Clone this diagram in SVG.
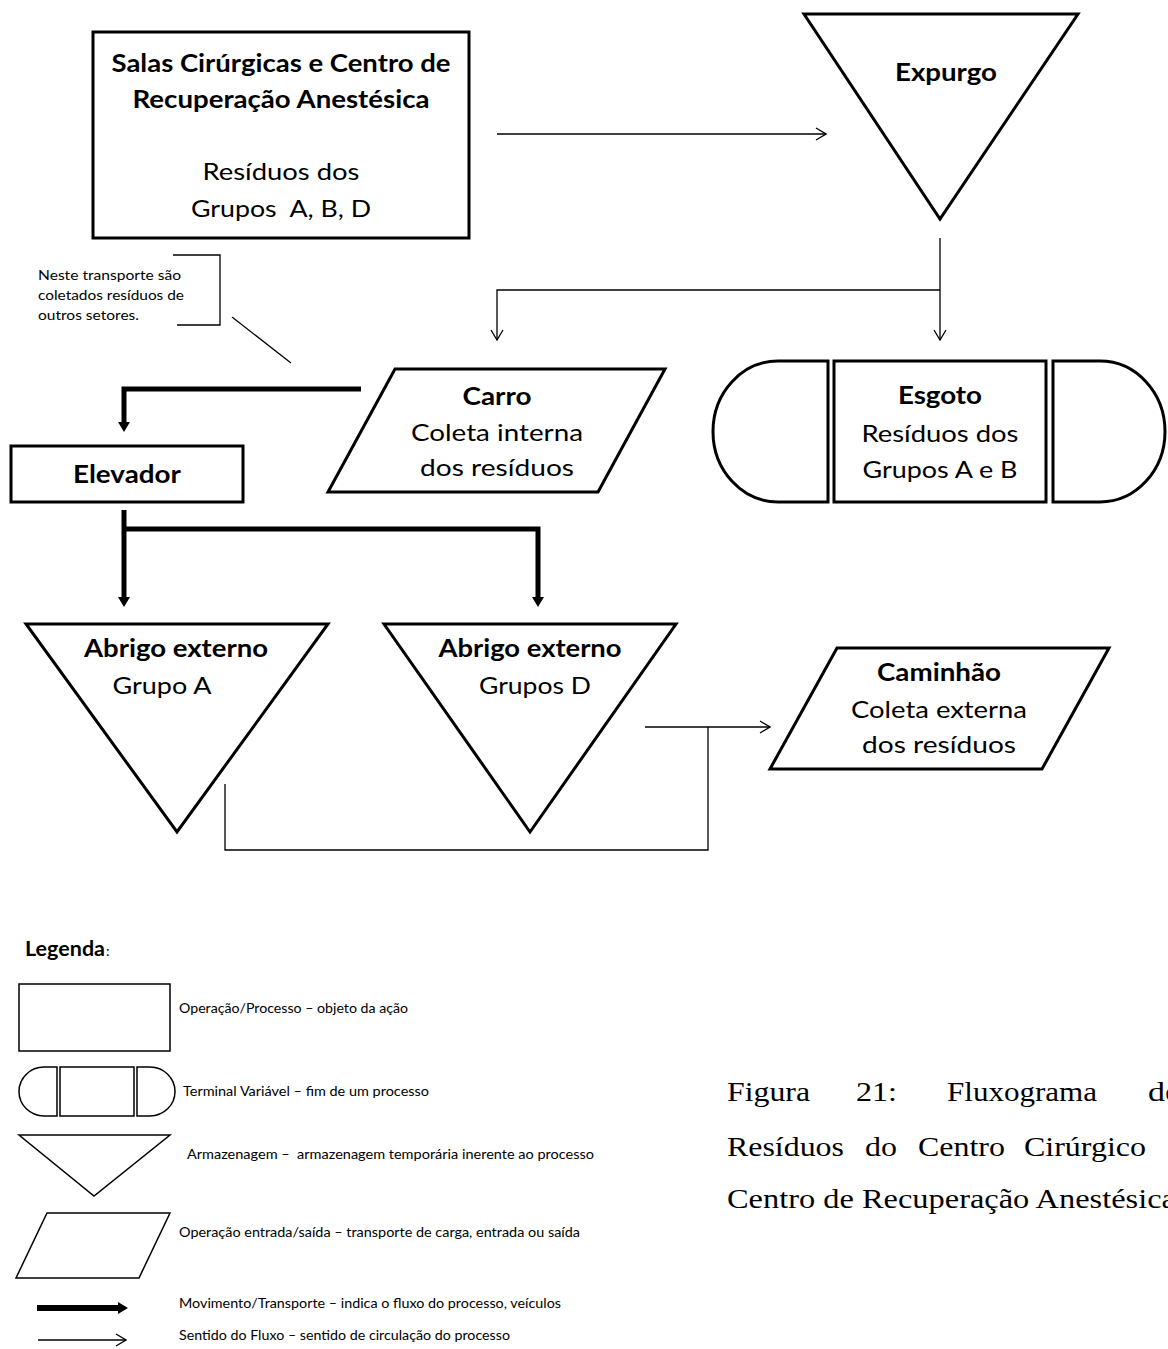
<svg xmlns="http://www.w3.org/2000/svg" width="1168" height="1349" viewBox="0 0 1168 1349">
  <style>
    .node { fill: #fff; stroke: #000; stroke-width: 3; stroke-linejoin: miter; }
    .leg { fill: #fff; stroke: #000; stroke-width: 1.5; }
    .thin { fill: none; stroke: #000; stroke-width: 1.3; }
    .thick { fill: none; stroke: #000; stroke-width: 5; }
    .t { font-family: Lato, "Open Sans", "Liberation Sans", sans-serif; fill: #000; }
    .lbl { font-size: 24px; text-anchor: middle; }
    .b { font-weight: bold; }
    .note { font-size: 13px; }
    .lg { font-size: 12.5px; }
    .cap { font-family: "Liberation Serif", "Times New Roman", serif; font-size: 27px; fill: #000; }
  </style>
  <defs>
    <marker id="open" viewBox="0 0 12 14" refX="11" refY="7" markerWidth="12" markerHeight="14" markerUnits="userSpaceOnUse" orient="auto">
      <path d="M1,1 L11,7 L1,13" fill="none" stroke="#000" stroke-width="1.3"/>
    </marker>
    <marker id="solid" viewBox="0 0 10 12" refX="2" refY="6" markerWidth="10" markerHeight="12" markerUnits="userSpaceOnUse" orient="auto">
      <path d="M0,0 L10,6 L0,12 Z" fill="#000"/>
    </marker>
  </defs>
  <rect width="1168" height="1349" fill="#fff"/>

  <!-- connectors -->
  <g id="connectors">
    <line class="thin" x1="497" y1="134" x2="826" y2="134" marker-end="url(#open)"/>
    <line class="thin" x1="940" y1="238" x2="940" y2="340" marker-end="url(#open)"/>
    <path class="thin" d="M940,290 H497 V340" marker-end="url(#open)"/>
    <path class="thick" d="M361,389 H124 V424" marker-end="url(#solid)"/>
    <path class="thick" d="M124,510 V599" marker-end="url(#solid)"/>
    <path class="thick" d="M124,529 H538 V599" marker-end="url(#solid)"/>
    <path class="thin" d="M225,784 V850 H708 V727"/>
    <line class="thin" x1="645" y1="727" x2="770" y2="727" marker-end="url(#open)"/>
    <line class="thin" x1="232" y1="317" x2="291" y2="363"/>
  </g>

  <!-- note -->
  <g id="note">
    <path class="thin" d="M173,255 H220 V325 H177"/>
    <text class="t note" x="38" y="280" textLength="143" lengthAdjust="spacingAndGlyphs">Neste transporte são</text>
    <text class="t note" x="38" y="300" textLength="146" lengthAdjust="spacingAndGlyphs">coletados resíduos de</text>
    <text class="t note" x="38" y="320" textLength="101" lengthAdjust="spacingAndGlyphs">outros setores.</text>
  </g>

  <g id="salas">
    <rect class="node" x="93" y="32" width="376" height="206"/>
    <text class="t lbl b" x="281" y="72" textLength="339" lengthAdjust="spacingAndGlyphs">Salas Cirúrgicas e Centro de</text>
    <text class="t lbl b" x="281" y="108" textLength="297" lengthAdjust="spacingAndGlyphs">Recuperação Anestésica</text>
    <text class="t lbl" x="281" y="180" textLength="157" lengthAdjust="spacingAndGlyphs">Resíduos dos</text>
    <text class="t lbl" x="281" y="217" textLength="180" lengthAdjust="spacingAndGlyphs" xml:space="preserve">Grupos  A, B, D</text>
  </g>

  <g id="expurgo">
    <polygon class="node" points="804,14 1078,14 940,219"/>
    <text class="t lbl b" x="946" y="81" textLength="102" lengthAdjust="spacingAndGlyphs">Expurgo</text>
  </g>

  <g id="carro">
    <polygon class="node" points="395,369 665,369 598,492 328,492"/>
    <text class="t lbl b" x="497" y="405" textLength="69" lengthAdjust="spacingAndGlyphs">Carro</text>
    <text class="t lbl" x="497" y="441" textLength="172" lengthAdjust="spacingAndGlyphs">Coleta interna</text>
    <text class="t lbl" x="497" y="476" textLength="154" lengthAdjust="spacingAndGlyphs">dos resíduos</text>
  </g>

  <g id="esgoto">
    <path class="node" d="M828,361 H778 A65,70.5 0 0 0 713,431.5 A65,70.5 0 0 0 778,502 H828 Z"/>
    <rect class="node" x="834" y="361" width="212" height="141"/>
    <path class="node" d="M1053,361 H1100 A65,70.5 0 0 1 1165,431.5 A65,70.5 0 0 1 1100,502 H1053 Z"/>
    <text class="t lbl b" x="940" y="404" textLength="84" lengthAdjust="spacingAndGlyphs">Esgoto</text>
    <text class="t lbl" x="940" y="442" textLength="157" lengthAdjust="spacingAndGlyphs">Resíduos dos</text>
    <text class="t lbl" x="940" y="478" textLength="155" lengthAdjust="spacingAndGlyphs">Grupos A e B</text>
  </g>

  <g id="elevador">
    <rect class="node" x="11" y="446" width="232" height="56"/>
    <text class="t lbl b" x="127" y="483" textLength="108" lengthAdjust="spacingAndGlyphs">Elevador</text>
  </g>

  <g id="abrigo-a">
    <polygon class="node" points="26,624 328,624 177,832"/>
    <text class="t lbl b" x="176" y="657" textLength="184" lengthAdjust="spacingAndGlyphs">Abrigo externo</text>
    <text class="t lbl" x="162" y="694" textLength="99" lengthAdjust="spacingAndGlyphs">Grupo A</text>
  </g>

  <g id="abrigo-d">
    <polygon class="node" points="384,624 676,624 530,832"/>
    <text class="t lbl b" x="530" y="657" textLength="183" lengthAdjust="spacingAndGlyphs">Abrigo externo</text>
    <text class="t lbl" x="535" y="694" textLength="112" lengthAdjust="spacingAndGlyphs">Grupos D</text>
  </g>

  <g id="caminhao">
    <polygon class="node" points="837,648 1109,648 1042,769 770,769"/>
    <text class="t lbl b" x="939" y="681" textLength="124" lengthAdjust="spacingAndGlyphs">Caminhão</text>
    <text class="t lbl" x="939" y="718" textLength="176" lengthAdjust="spacingAndGlyphs">Coleta externa</text>
    <text class="t lbl" x="939" y="753" textLength="154" lengthAdjust="spacingAndGlyphs">dos resíduos</text>
  </g>

  <!-- legend -->
  <g id="legend">
    <text class="t" x="25" y="956" font-size="20" font-weight="bold" textLength="80" lengthAdjust="spacingAndGlyphs">Legenda</text>
    <text class="t" x="106" y="956" font-size="14">:</text>
    <rect class="leg" x="19" y="984" width="151" height="67"/>
    <text class="t lg" x="179" y="1013" textLength="229" lengthAdjust="spacingAndGlyphs">Operação/Processo – objeto da ação</text>
    <path class="leg" d="M57,1067 H44 A25,24.5 0 0 0 19,1091.5 A25,24.5 0 0 0 44,1116 H57 Z"/>
    <rect class="leg" x="60" y="1067" width="74" height="49"/>
    <path class="leg" d="M137,1067 H150 A25,24.5 0 0 1 175,1091.5 A25,24.5 0 0 1 150,1116 H137 Z"/>
    <text class="t lg" x="183" y="1096" textLength="246" lengthAdjust="spacingAndGlyphs">Terminal Variável – fim de um processo</text>
    <polygon class="leg" points="19,1135 170,1135 94,1196"/>
    <text class="t lg" x="187" y="1159" textLength="407" lengthAdjust="spacingAndGlyphs" xml:space="preserve">Armazenagem –  armazenagem temporária inerente ao processo</text>
    <polygon class="leg" points="47,1213 170,1213 139,1278 16,1278"/>
    <text class="t lg" x="179" y="1237" textLength="401" lengthAdjust="spacingAndGlyphs">Operação entrada/saída – transporte de carga, entrada ou saída</text>
    <line x1="37" y1="1308" x2="120" y2="1308" stroke="#000" stroke-width="6" marker-end="url(#solid)"/>
    <text class="t lg" x="179" y="1308" textLength="382" lengthAdjust="spacingAndGlyphs">Movimento/Transporte – indica o fluxo do processo, veículos</text>
    <line class="thin" x1="38" y1="1340" x2="126" y2="1340" marker-end="url(#open)"/>
    <text class="t lg" x="179" y="1340" textLength="331" lengthAdjust="spacingAndGlyphs">Sentido do Fluxo – sentido de circulação do processo</text>
  </g>

  <!-- caption (justified lines, set word by word) -->
  <g id="caption">
    <text class="cap" x="727" y="1101" textLength="83" lengthAdjust="spacingAndGlyphs">Figura</text>
    <text class="cap" x="856" y="1101" textLength="41" lengthAdjust="spacingAndGlyphs">21:</text>
    <text class="cap" x="947" y="1101" textLength="150" lengthAdjust="spacingAndGlyphs">Fluxograma</text>
    <text class="cap" x="1148" y="1101" textLength="32" lengthAdjust="spacingAndGlyphs">de</text>
    <text class="cap" x="727" y="1156" textLength="117" lengthAdjust="spacingAndGlyphs">Resíduos</text>
    <text class="cap" x="865" y="1156" textLength="32" lengthAdjust="spacingAndGlyphs">do</text>
    <text class="cap" x="918" y="1156" textLength="87" lengthAdjust="spacingAndGlyphs">Centro</text>
    <text class="cap" x="1024" y="1156" textLength="122" lengthAdjust="spacingAndGlyphs">Cirúrgico</text>
    <text class="cap" x="727" y="1208" textLength="449" lengthAdjust="spacingAndGlyphs">Centro de Recuperação Anestésica</text>
  </g>
</svg>
